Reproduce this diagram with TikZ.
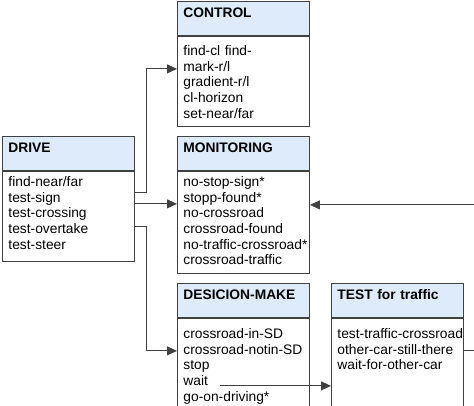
\documentclass[tikz,border=0pt]{standalone}
\usepackage{fontspec}
\setmainfont{Liberation Sans}
\usetikzlibrary{positioning,arrows.meta}
\definecolor{hdrblue}{RGB}{221,235,250}
\definecolor{linegray}{RGB}{64,64,64}

\begin{document}
\begin{tikzpicture}[x=1pt,y=-1pt,
	every node/.style={draw=linegray,line width=0.9pt,rectangle,text width=120pt,align=left,inner xsep=6pt,
		font=\fontsize{13.8}{15.7}\selectfont,
		execute at begin node={\exhyphenpenalty=10000\hyphenpenalty=10000\hbadness=10000}},
	hdr/.style={fill=hdrblue,anchor=north west,inner ysep=5pt,text height=11pt,text depth=13pt,
		font=\fontsize{13.8}{15.7}\selectfont\bfseries},
	body/.style 2 args={fill=white,inner ysep=4pt,text height=#1,text depth=#2},
	link/.style={draw=linegray,line width=0.9pt,-{Triangle[length=10pt,width=9pt]}}]

		\useasboundingbox (0,0) rectangle (474,406);
		\clip (0,0) rectangle (474,406);

		%headers
		\node[hdr] (ctlh) at (177,1) {CONTROL};
		\node[hdr] (drvh) at (2,136) {DRIVE};
		\node[hdr] (monh) at (177,136) {MONITORING};
		\node[hdr] (dech) at (177,283) {DESICION-MAKE};
		\node[hdr] (tsth) at (331,283) {TEST for traffic};

		%bodies
		\node[body={15pt}{67pt},below=0pt of ctlh] (ctlb) {find-cl find-\\mark-r/l\\gradient-r/l\\cl-horizon\\set-near/far};
		\node[body={11pt}{71pt},below=0pt of drvh] (drvb) {find-near/far\\test-sign\\test-crossing\\test-overtake\\test-steer};
		\node[body={11pt}{83pt},below=0pt of monh] (monb) {no-stop-sign*\\stopp-found*\\no-crossroad\\crossroad-found\\no-traffic-crossroad*\\crossroad-traffic};
		\node[body={16pt}{91pt},below=0pt of dech] (decb) {crossroad-in-SD\\crossroad-notin-SD\\stop\\wait\\go-on-driving*};
		\node[body={16pt}{91pt},below=0pt of tsth] (tstb) {test-traffic-crossroad\\other-car-still-there\\wait-for-other-car};

		%edges
		\draw[link] ([yshift=-22pt]drvb.north east) -- ++(12,0) |- ([yshift=-33pt]ctlb.north west);
		\draw[link] ([yshift=-33pt]drvb.north east) -- ([yshift=-33pt]monb.north west);
		\draw[link] ([yshift=-56pt]drvb.north east) -- ++(12,0) |- ([yshift=-33pt]decb.north west);
		\draw[link] ([xshift=43pt,yshift=-68pt]decb.north west) -- ([yshift=-68pt]tstb.north west);
		\draw[link] ([yshift=-33pt]tstb.north east) -- ++(20,0) |- ([yshift=-34pt]monb.north east);

\end{tikzpicture}
\end{document}
